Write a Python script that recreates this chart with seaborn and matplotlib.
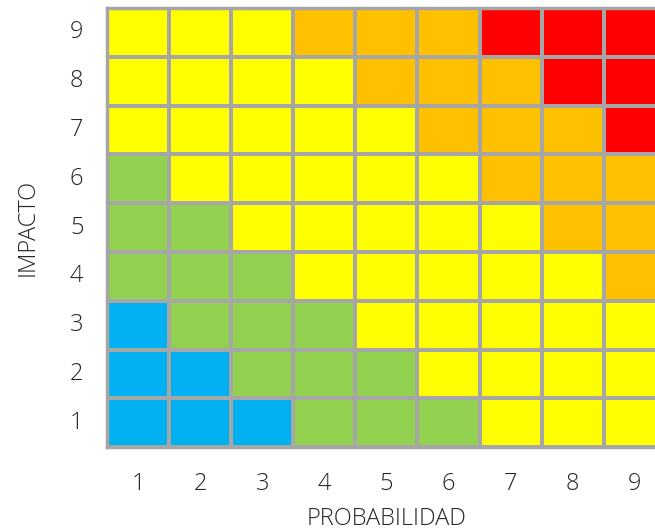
import numpy as np
import pandas as pd
import matplotlib
matplotlib.use('Agg')
import matplotlib.pyplot as plt
from matplotlib.colors import ListedColormap
import seaborn as sns

# Risk matrix: rows are impact (9 at top), columns are probability 1..9
probabilidad = [1, 2, 3, 4, 5, 6, 7, 8, 9]
impacto = [9, 8, 7, 6, 5, 4, 3, 2, 1]

# level codes: B = muy bajo, G = bajo, Y = medio, O = alto, R = extremo
impacto_9 = ['Y', 'Y', 'Y', 'O', 'O', 'O', 'R', 'R', 'R']
impacto_8 = ['Y', 'Y', 'Y', 'Y', 'O', 'O', 'O', 'R', 'R']
impacto_7 = ['Y', 'Y', 'Y', 'Y', 'Y', 'O', 'O', 'O', 'R']
impacto_6 = ['G', 'Y', 'Y', 'Y', 'Y', 'Y', 'O', 'O', 'O']
impacto_5 = ['G', 'G', 'Y', 'Y', 'Y', 'Y', 'Y', 'O', 'O']
impacto_4 = ['G', 'G', 'G', 'Y', 'Y', 'Y', 'Y', 'Y', 'O']
impacto_3 = ['B', 'G', 'G', 'G', 'Y', 'Y', 'Y', 'Y', 'Y']
impacto_2 = ['B', 'B', 'G', 'G', 'G', 'Y', 'Y', 'Y', 'Y']
impacto_1 = ['B', 'B', 'B', 'G', 'G', 'G', 'Y', 'Y', 'Y']

niveles = ['B', 'G', 'Y', 'O', 'R']
colores = ['#00B0F0', '#92D050', '#FFFF00', '#FFC000', '#FF0000']

rows = [impacto_9, impacto_8, impacto_7, impacto_6, impacto_5,
        impacto_4, impacto_3, impacto_2, impacto_1]
codes = [[niveles.index(c) for c in r] for r in rows]
df = pd.DataFrame(codes, index=impacto, columns=probabilidad)

plt.rcParams['font.family'] = ['Open Sans', 'DejaVu Sans']

fig = plt.figure(figsize=(6.55, 5.31), dpi=100)
ax = fig.add_axes([0.1634, 0.158, 0.853, 0.827])

sns.heatmap(
    df,
    cmap=ListedColormap(colores),
    vmin=-0.5, vmax=4.5,
    cbar=False,
    linewidths=1.5,
    linecolor='#A6A6A6',
    ax=ax
)

for side in ['left', 'bottom', 'top']:
    ax.spines[side].set_visible(True)
    ax.spines[side].set_color('#A6A6A6')
    ax.spines[side].set_linewidth(2.5)
ax.spines['right'].set_visible(False)

txt = '#262626'
ax.tick_params(axis='both', length=0, labelsize=17, labelcolor=txt)
ax.tick_params(axis='y', pad=17, rotation=0)
ax.tick_params(axis='x', pad=18)
for lbl in ax.get_xticklabels() + ax.get_yticklabels():
    lbl.set_fontweight('light')

ax.set_xlabel('PROBABILIDAD', fontsize=17, fontweight='light', color=txt, va='baseline')
ax.xaxis.set_label_coords(0.5, -0.178)
ax.set_ylabel('IMPACTO', fontsize=17, fontweight='light', color=txt, va='baseline')
ax.yaxis.set_label_coords(-0.132, 0.5)

fig.savefig('out.png', dpi=100)
